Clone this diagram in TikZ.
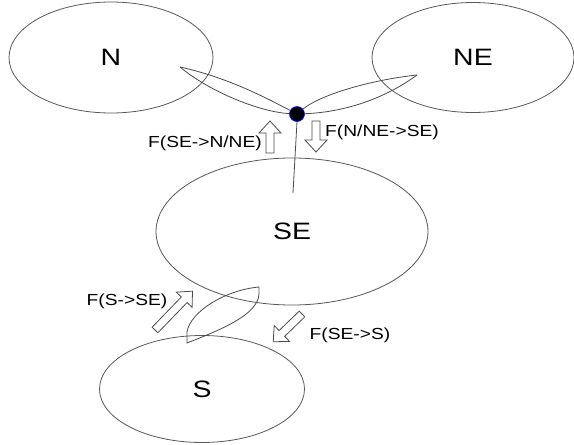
\documentclass[tikz,border=0pt]{standalone}
\usepackage{fontspec}
\usepackage{graphicx}
\setmainfont{Liberation Sans}
\usetikzlibrary{shapes.geometric}
\tikzset{
  region/.style={ellipse, draw=black!65, line width=0.8pt, inner sep=0pt},
  bigtxt/.style={font=\fontsize{23.7}{28}\selectfont},
  smalltxt/.style={font=\fontsize{16}{19}\selectfont, inner sep=0pt},
  petal/.style={draw=black!70, line width=0.8pt},
  harrowstyle/.style={draw=black!70, fill=white, line width=0.8pt, line join=miter},
}
\newcommand{\hollowarrow}[4]{%
  \begin{scope}[shift={(#1,#2)}, rotate=#3]
    \draw[harrowstyle] (0,-4) -- (#4-12,-4) -- (#4-12,-11) -- (#4,0) -- (#4-12,11) -- (#4-12,4) -- (0,4) -- cycle;
  \end{scope}}
\begin{document}
\begin{tikzpicture}[x=1pt, y=-1pt]
\useasboundingbox[fill=white] (0,0) rectangle (574,445);
% regions
\node[region, bigtxt, minimum width=204, minimum height=111] (N) at (111,57.5) {\scalebox{1.2}[1]{N}};
\node[region, bigtxt, minimum width=202, minimum height=110] (NE) at (473,57.5) {\scalebox{1.2}[1]{NE}};
\node[region, bigtxt, minimum width=272, minimum height=147] (SE) at (292,231.5) {\scalebox{1.2}[1]{SE}};
\node[region, bigtxt, minimum width=205, minimum height=107] (S) at (202,389) {\scalebox{1.2}[1]{S}};
% junction
\node[circle, fill=black, draw=blue, line width=0.6pt, minimum width=15, minimum height=14, inner sep=0pt] (dot) at (297,114) {};
\coordinate (ntip) at (180,67);
\coordinate (netip) at (417,75);
\coordinate (lineend) at (293,193);
\draw[petal] (ntip) .. controls (230,78) and (270,100) .. (dot);
\draw[petal] (ntip) .. controls (210,92) and (260,112) .. (dot);
\draw[petal] (dot) .. controls (320,95) and (370,80) .. (netip);
\draw[petal] (dot) .. controls (350,112) and (390,95) .. (netip);
\draw[petal] (dot.south) -- (lineend);
% lower lens
\coordinate (la) at (187,332);
\coordinate (lb) at (259,287);
\coordinate (lc) at (259,294);
\coordinate (ld) at (187,343);
\draw[petal] (la) .. controls (190,312) and (225,290) .. (lb) -- (lc) .. controls (258,315) and (220,330) .. (ld) -- cycle;
% flux arrows
\hollowarrow{270}{153}{90}{32}
\hollowarrow{316}{121}{-90}{31}
\hollowarrow{155}{330}{46}{54}
\hollowarrow{302}{314}{-136}{40}
% labels
\node[smalltxt] (l1) at (205,143) {\scalebox{1.2}[1]{F(SE->N/NE)}};
\node[smalltxt] (l2) at (382,132) {\scalebox{1.2}[1]{F(N/NE->SE)}};
\node[smalltxt] (l3) at (127,301) {\scalebox{1.2}[1]{F(S->SE)}};
\node[smalltxt] (l4) at (350,335) {\scalebox{1.2}[1]{F(SE->S)}};
\end{tikzpicture}
\end{document}
